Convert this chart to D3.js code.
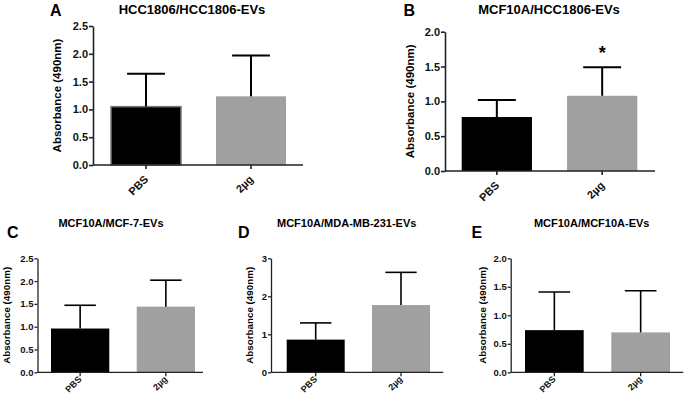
<!DOCTYPE html>
<html>
<head>
<meta charset="utf-8">
<script src="https://cdn.jsdelivr.net/npm/d3@7"></script>
<style>
  body { margin: 0; background: #fff; }
  svg { display: block; font-family: Arial, "Liberation Sans", sans-serif; }
  .axis path, .axis line { stroke: #222; }
  .axis text { fill: #111; font-weight: bold; }
</style>
</head>
<body>
<svg id="chart" width="685" height="396"></svg>
<script>
// values
const groups = ["PBS", "2µg"];
const panelLetters = ["A", "B", "C", "D", "E"];
const panelTitles = [
  "HCC1806/HCC1806-EVs",
  "MCF10A/HCC1806-EVs",
  "MCF10A/MCF-7-EVs",
  "MCF10A/MDA-MB-231-EVs",
  "MCF10A/MCF10A-EVs",
];
const meanA = [1.05, 1.235];
const sdA = [0.59, 0.735];
const meanB = [0.775, 1.08];
const sdB = [0.245, 0.41];
const meanC = [0.96, 1.44];
const sdC = [0.51, 0.58];
const meanD = [0.86, 1.77];
const sdD = [0.44, 0.86];
const meanE = [0.74, 0.70];
const sdE = [0.67, 0.73];
const yMaxes = [2.5, 2.0, 2.5, 3, 2.0];
const yStep = [0.5, 0.5, 0.5, 1, 0.5];
const significance = [null, [null, "*"], null, null, null];
const yLabel = "Absorbance (490nm)";

const means = [meanA, meanB, meanC, meanD, meanE];
const sds = [sdA, sdB, sdC, sdD, sdE];
const barColors = ["#000000", "#a0a0a0"];

// panel geometry (pixels)
const big = { title: 13, letter: 16, tick: 11, label: 11.5, xtick: 11, err: 2, axis: 1.6, pad: 0.333, xlab: "translate(3,15) rotate(-45)" };
const small = { title: 11, letter: 16, tick: 9.5, label: 9.8, xtick: 9, err: 1.6, axis: 1.3, pad: 0.32, xlab: "translate(2,7.5) rotate(-45)" };
const layouts = [
  { s: big, axisL: 93, axisR: 303, yTop: 26, yBot: 165, barL: 111, barR: 286, titleX: 192, titleY: 14, letterX: 50, letterY: 15.5, labelX: 57 },
  { s: big, axisL: 445, axisR: 655, yTop: 31.7, yBot: 171, barL: 461.7, barR: 637.3, titleX: 549, titleY: 14, letterX: 403.5, letterY: 16, labelX: 409.5 },
  { s: small, axisL: 37.5, axisR: 203, yTop: 258.3, yBot: 372.3, barL: 51, barR: 195, titleX: 111, titleY: 227, letterX: 7, letterY: 238, labelX: 6.5 },
  { s: small, axisL: 271, axisR: 443.3, yTop: 258.3, yBot: 372.3, barL: 286.7, barR: 430, titleX: 346.7, titleY: 227, letterX: 238, letterY: 238, labelX: 249.5 },
  { s: small, axisL: 510.7, axisR: 683.3, yTop: 258.3, yBot: 372.3, barL: 525, barR: 670, titleX: 591.7, titleY: 227, letterX: 471.5, letterY: 238, labelX: 482 },
];

const svg = d3.select("#chart");

layouts.forEach((lay, i) => {
  const s = lay.s;
  const g = svg.append("g");

  const x = d3.scaleBand().domain(groups).range([lay.barL, lay.barR]).paddingInner(s.pad).paddingOuter(0);
  const y = d3.scaleLinear().domain([0, yMaxes[i]]).range([lay.yBot, lay.yTop]);
  const ticks = d3.range(0, yMaxes[i] + 1e-9, yStep[i]);
  const fmt = yStep[i] < 1 ? d3.format(".1f") : d3.format("d");

  const data = groups.map((k, j) => ({ k, m: means[i][j], sd: sds[i][j], c: barColors[j], sig: significance[i] ? significance[i][j] : null }));

  // bars
  g.selectAll("rect.bar").data(data).join("rect")
    .attr("class", "bar")
    .attr("x", (d) => x(d.k))
    .attr("width", x.bandwidth())
    .attr("y", (d) => y(d.m))
    .attr("height", (d) => y(0) - y(d.m))
    .attr("fill", (d) => d.c)
    .attr("stroke", (d, j) => (i === 0 && j === 0 ? "#7a7a7a" : "none"))
    .attr("stroke-width", 1.5);

  // error bars (upper only)
  const capHalf = x.bandwidth() * 0.27;
  const eg = g.selectAll("g.err").data(data).join("g").attr("class", "err")
    .attr("stroke", "#000").attr("stroke-width", s.err);
  eg.append("line")
    .attr("x1", (d) => x(d.k) + x.bandwidth() / 2)
    .attr("x2", (d) => x(d.k) + x.bandwidth() / 2)
    .attr("y1", (d) => y(d.m))
    .attr("y2", (d) => y(d.m + d.sd));
  eg.append("line")
    .attr("x1", (d) => x(d.k) + x.bandwidth() / 2 - capHalf)
    .attr("x2", (d) => x(d.k) + x.bandwidth() / 2 + capHalf)
    .attr("y1", (d) => y(d.m + d.sd))
    .attr("y2", (d) => y(d.m + d.sd));

  // significance marks
  g.selectAll("text.sig").data(data.filter((d) => d.sig)).join("text")
    .attr("class", "sig")
    .attr("x", (d) => x(d.k) + x.bandwidth() / 2)
    .attr("y", (d) => y(d.m + d.sd) - 8)
    .attr("text-anchor", "middle")
    .attr("font-size", 18)
    .attr("font-weight", "bold")
    .text((d) => d.sig);

  // y axis
  const yAxis = g.append("g").attr("class", "axis")
    .attr("transform", `translate(${lay.axisL},0)`)
    .call(d3.axisLeft(y).tickValues(ticks).tickFormat(fmt).tickSize(i < 2 ? 4 : 3).tickSizeOuter(0).tickPadding(1));
  yAxis.selectAll("path, line").attr("stroke-width", s.axis);
  yAxis.selectAll("text").attr("font-size", s.tick).attr("font-family", null);

  // x axis
  const xAxis = g.append("g").attr("class", "axis")
    .attr("transform", `translate(0,${lay.yBot})`)
    .call(d3.axisBottom(x).tickSize(4).tickSizeOuter(0));
  xAxis.select(".domain").remove();
  xAxis.append("line")
    .attr("x1", lay.axisL).attr("x2", lay.axisR)
    .attr("y1", 0).attr("y2", 0);
  xAxis.selectAll("line").attr("stroke-width", s.axis);
  xAxis.selectAll(".tick text")
    .attr("font-size", s.xtick)
    .attr("font-family", null)
    .attr("text-anchor", "end")
    .attr("y", 0)
    .attr("dy", 0)
    .attr("transform", s.xlab);

  // y label
  g.append("text")
    .attr("transform", `translate(${lay.labelX + s.label * 0.36},${(lay.yTop + lay.yBot) / 2}) rotate(-90)`)
    .attr("text-anchor", "middle")
    .attr("font-size", s.label)
    .attr("font-weight", "bold")
    .text(yLabel);

  // title and letter
  g.append("text")
    .attr("x", lay.titleX).attr("y", lay.titleY)
    .attr("text-anchor", "middle")
    .attr("font-size", s.title)
    .attr("font-weight", "bold")
    .text(panelTitles[i]);
  g.append("text")
    .attr("x", lay.letterX).attr("y", lay.letterY)
    .attr("font-size", s.letter)
    .attr("font-weight", "bold")
    .text(panelLetters[i]);
});
</script>
</body>
</html>
